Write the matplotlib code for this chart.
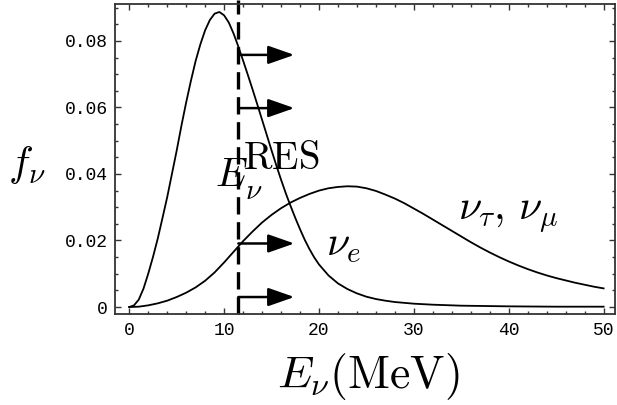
import numpy as np
import matplotlib
matplotlib.use("Agg")
import matplotlib.pyplot as plt
from matplotlib.ticker import MultipleLocator

plt.rcParams['mathtext.fontset'] = 'cm'

# nu_e spectrum
e_nue = [0, 0.5, 1, 1.5, 2, 2.5, 3, 3.5, 4, 4.5, 5, 5.5, 6, 6.5, 7, 7.5, 8, 8.5,
         9, 9.5, 10, 10.5, 11, 11.5, 12, 12.5, 13, 13.5, 14, 14.5, 15, 15.5, 16,
         16.5, 17, 17.5, 18, 18.5, 19, 19.5, 20, 21, 22, 23, 24, 25, 26, 27, 28,
         30, 32, 35, 40, 45, 50]
f_nue = [0, 0.0005, 0.0022, 0.0055, 0.0100, 0.0150, 0.0205, 0.0267, 0.0330,
         0.0400, 0.0470, 0.0545, 0.0615, 0.0680, 0.0740, 0.0790, 0.0832, 0.0863,
         0.0882, 0.0887, 0.0877, 0.0855, 0.0822, 0.0783, 0.0741, 0.0698, 0.0654,
         0.0609, 0.0563, 0.0517, 0.0471, 0.0426, 0.0383, 0.0342, 0.0304, 0.0268,
         0.0234, 0.0202, 0.0174, 0.0149, 0.0128, 0.0095, 0.0071, 0.0054, 0.0041,
         0.0031, 0.0024, 0.0019, 0.0015, 0.0010, 0.0007, 0.0004, 0.0002, 0.0001,
         0.0001]

# nu_tau, nu_mu spectrum
e_nux = list(range(0, 51))
f_nux = [0, 0.0001, 0.0005, 0.0011, 0.0019, 0.0030, 0.0043, 0.0059, 0.0079,
         0.0104, 0.0134, 0.0166, 0.0198, 0.0227, 0.0254, 0.0277, 0.0297, 0.0314,
         0.0328, 0.0340, 0.0350, 0.0357, 0.0361, 0.0363, 0.0362, 0.0357, 0.0349,
         0.0338, 0.0326, 0.0312, 0.0296, 0.0280, 0.0263, 0.0246, 0.0229, 0.0212,
         0.0195, 0.0179, 0.0164, 0.0150, 0.0137, 0.0125, 0.0114, 0.0104, 0.0095,
         0.0087, 0.0080, 0.0073, 0.0067, 0.0061, 0.0056]

e_res = 11.5
arrow_y = [0.0758, 0.0598, 0.0191, 0.0030]
arrow_end = 17.4

xticks = [0, 10, 20, 30, 40, 50]
yticks = [0, 0.02, 0.04, 0.06, 0.08]
ytick_labels = ['0', '0.02', '0.04', '0.06', '0.08']

fig = plt.figure(figsize=(6.17, 4.05), dpi=100)
ax = fig.add_axes([115 / 617, 1 - 314 / 405, 500 / 617, 310 / 405])

ax.plot(e_nue, f_nue, color='k', lw=1.3)
ax.plot(e_nux, f_nux, color='k', lw=1.3)

# E_nu^RES threshold, drawn a bit above the frame like the original
ax.plot([e_res, e_res], [-0.0021, 0.0923], color='k', lw=2.4,
        dashes=(5.2, 2.3), clip_on=False)

for y in arrow_y:
    ax.annotate('', xy=(arrow_end, y), xytext=(e_res, y),
                arrowprops=dict(arrowstyle='-|>,head_length=0.8,head_width=0.28',
                                lw=1.8, color='k', mutation_scale=20,
                                shrinkA=0, shrinkB=0))

ax.set_xlim(-1.5, 51.2)
ax.set_ylim(-0.0021, 0.0911)
ax.set_xticks(xticks)
ax.set_yticks(yticks)
ax.set_yticklabels(ytick_labels)
ax.xaxis.set_minor_locator(MultipleLocator(2))
ax.yaxis.set_minor_locator(MultipleLocator(0.005))
ax.tick_params(which='both', direction='in', top=True, right=True,
               width=1.0, color='#333333')
ax.tick_params(which='major', length=4)
ax.tick_params(which='minor', length=2.5)
ax.tick_params(axis='y', pad=5)
ax.tick_params(axis='x', pad=6)
for lab in ax.get_xticklabels() + ax.get_yticklabels():
    lab.set_family('Liberation Mono')
    lab.set_fontsize(13)
for sp in ax.spines.values():
    sp.set_linewidth(1.3)
    sp.set_color('#333333')

ax.text(9.0, 0.0365, r'$E$', fontsize=29, ha='left', va='baseline')
ax.text(12.2, 0.0324, r'$\nu$', fontsize=21, ha='left', va='baseline')
ax.text(12.0, 0.0415, r'$\mathrm{RES}$', fontsize=28, ha='left', va='baseline')
ax.text(20.7, 0.0153, r'$\nu_e$', fontsize=30, ha='left', va='baseline')
ax.text(34.6, 0.0264, r'$\nu_\tau,\,\nu_\mu$', fontsize=30, ha='left',
        va='baseline')

fig.text(8 / 617, 1 - 176 / 405, r'$f_\nu$', fontsize=30, ha='left',
         va='baseline')
fig.text(368 / 617, 1 - 388 / 405, r'$E_\nu(\mathrm{MeV})$', fontsize=33,
         ha='center', va='baseline')

fig.savefig('out.png', dpi=100)
